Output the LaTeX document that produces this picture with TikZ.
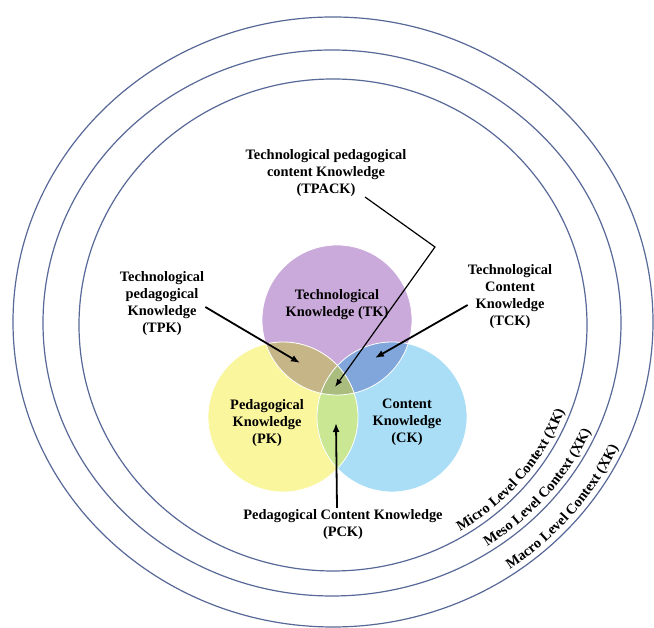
\documentclass[tikz,border=0pt]{standalone}
\usepackage{fontspec}
\setmainfont{Liberation Serif}
\usetikzlibrary{arrows.meta,decorations.text}
\definecolor{ringc}{RGB}{88,104,152}
\definecolor{tkc}{RGB}{202,170,218}
\definecolor{pkc}{RGB}{250,246,158}
\definecolor{ckc}{RGB}{170,222,246}
\definecolor{tpc}{RGB}{198,182,135}
\definecolor{tcc}{RGB}{128,166,220}
\definecolor{pcc}{RGB}{202,232,148}
\definecolor{allc}{RGB}{170,188,126}
\begin{document}
\begin{tikzpicture}[x=1pt,y=1pt,
  ring/.style={draw=ringc,line width=1.2pt},
  lbl/.style={font=\bfseries\fontsize{14.4}{17}\selectfont,align=center,inner sep=0pt},
  arr/.style={line width=1.8pt,-{Latex[length=9pt,width=7pt]}},
  thinarr/.style={line width=1.2pt,-{Latex[length=8pt,width=6pt]}},
  vennline/.style={draw=white,line width=0.8pt},
  curvetext/.style={decorate,decoration={text along path,text align=center,
     text={|\bfseries\fontsize{14.4}{17}\selectfont|#1}}}]
\useasboundingbox (0,0) rectangle (654,628);
\fill[white] (0,0) rectangle (654,628);
% context rings
\draw[ring] (333,303) ellipse [x radius=254, y radius=246];
\draw[ring] (332,305) ellipse [x radius=289, y radius=273];
\draw[ring] (333,306) ellipse [x radius=320, y radius=305];
% venn circles
\fill[tkc] (337,308) circle[radius=75];
\fill[pkc] (283,211) circle[radius=75];
\fill[ckc] (392,211) circle[radius=75];
\begin{scope}
  \clip (337,308) circle[radius=75];
  \fill[tpc] (283,211) circle[radius=75];
  \fill[tcc] (392,211) circle[radius=75];
\end{scope}
\begin{scope}
  \clip (283,211) circle[radius=75];
  \fill[pcc] (392,211) circle[radius=75];
  \clip (392,211) circle[radius=75];
  \fill[allc] (337,308) circle[radius=75];
\end{scope}
\draw[vennline] (337,308) circle[radius=75];
\draw[vennline] (283,211) circle[radius=75];
\draw[vennline] (392,211) circle[radius=75];
% labels
\node[lbl] (tpack) at (326,455) {Technological pedagogical\\content Knowledge\\(TPACK)};
\node[lbl] (tpk) at (162,324) {Technological\\pedagogical\\Knowledge\\(TPK)};
\node[lbl] (tck) at (510,331) {Technological\\Content\\Knowledge\\(TCK)};
\node[lbl] (tk) at (337,323) {Technological\\Knowledge (TK)};
\node[lbl] (pk) at (267,205) {Pedagogical\\Knowledge\\(PK)};
\node[lbl] (ck) at (407,206) {Content\\Knowledge\\(CK)};
\node[lbl] (pck) at (343,103) {Pedagogical Content Knowledge\\(PCK)};
% arrow targets
\coordinate (tpkT) at (300,265);
\coordinate (tckT) at (375,270);
\coordinate (pckT) at (336,205);
\coordinate (tpackS) at (365,431);
\coordinate (tpackB) at (435,381);
\coordinate (tpackT) at (335,241);
\draw[arr] ([xshift=1pt,yshift=-3pt]tpk.east) -- (tpkT);
\draw[arr] ([yshift=-8pt]tck.west) -- (tckT);
\draw[arr] ([xshift=-6pt,yshift=2pt]pck.north) -- (pckT);
\draw[thinarr] (tpackS) -- (tpackB) -- (tpackT);
% curved context labels
\path[curvetext={Micro Level Context (XK)}] (333,303) ++(-70:248 and 240) arc[start angle=-70,end angle=-10,x radius=248,y radius=240];
\path[curvetext={Meso Level Context (XK)}] (332,305) ++(-70:283 and 267) arc[start angle=-70,end angle=-10,x radius=283,y radius=267];
\path[curvetext={Macro Level Context (XK)}] (333,306) ++(-70:314 and 299) arc[start angle=-70,end angle=-10,x radius=314,y radius=299];
\end{tikzpicture}
\end{document}
